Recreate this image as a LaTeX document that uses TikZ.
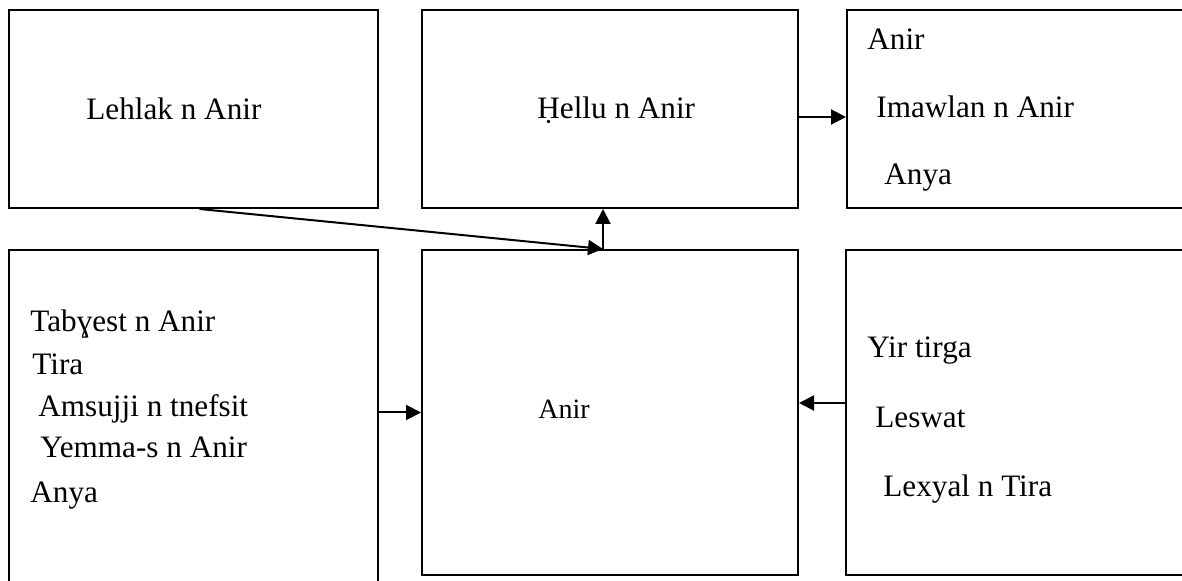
\documentclass[tikz,border=0pt]{standalone}
\usepackage{fontspec}
\setmainfont{Liberation Serif}
\usepackage{tikz}
\usetikzlibrary{arrows.meta, positioning}

\tikzset{
  box/.style={draw, line width=1pt, minimum width=#1, inner sep=0pt},
  txt/.style={anchor=base west, inner sep=0pt, font=\fontsize{15.6}{18}\selectfont},
  arr/.style={-{Triangle[length=7.5pt, width=7.5pt]}, line width=1pt}
}

\begin{document}
\begin{tikzpicture}[x=0.5pt, y=-0.5pt]
        \clip (0,0) rectangle (1182,581);
        % boxes
        \node (lehlak)  [box=184.5pt, minimum height=99pt]  at (193.5,109) {};
        \node (hellu)   [box=188pt,   minimum height=99pt]  at (610,109)   {};
        \node (imawlan) [box=176.5pt, minimum height=99pt]  at (1023.5,109) {};
        \node (tabyest) [box=184.5pt, minimum height=185pt] at (193.5,435) {};
        \node (anir)    [box=188pt,   minimum height=162.5pt] at (610,412.5) {};
        \node (yir)     [box=172pt,   minimum height=162.5pt] at (1018,412.5) {};
        % texts
        \node (t1) [txt] at (86,120)  {Lehlak n Anir};
        \node (t2) [txt] at (537,119) {Ḥellu n Anir};
        \node (t3) [txt] at (867,50)  {Anir};
        \node (t4) [txt] at (876,118) {Imawlan n Anir};
        \node (t5) [txt] at (884,185) {Anya};
        \node (t6) [txt] at (30,332)  {Tabɣest n Anir};
        \node (t7) [txt] at (32,375)  {Tira};
        \node (t8) [txt] at (38,417)  {Amsujji n tnefsit};
        \node (t9) [txt] at (40,458)  {Yemma-s n Anir};
        \node (t10) [txt] at (30,503) {Anya};
        \node (t11) [txt, font=\fontsize{14}{17}\selectfont] at (538,419) {Anir};
        \node (t12) [txt] at (867,358) {Yir tirga};
        \node (t13) [txt] at (875,428) {Leswat};
        \node (t14) [txt] at (883,497) {Lexyal n Tira};
        % arrows
        \coordinate (jn) at ([xshift=-3.5pt]anir.north);
        \draw [arr] ([xshift=3pt]lehlak.south) -- (jn);
        \draw [arr] (jn) -- (jn |- hellu.south);
        \draw [arr] ([yshift=-4pt]hellu.east) -- ([yshift=-4pt]imawlan.west);
        \draw [arr] (tabyest.east |- anir.west) -- (anir.west);
        \draw [arr] ([yshift=4.75pt]yir.west) -- ([yshift=4.75pt]anir.east);
\end{tikzpicture}
\end{document}
